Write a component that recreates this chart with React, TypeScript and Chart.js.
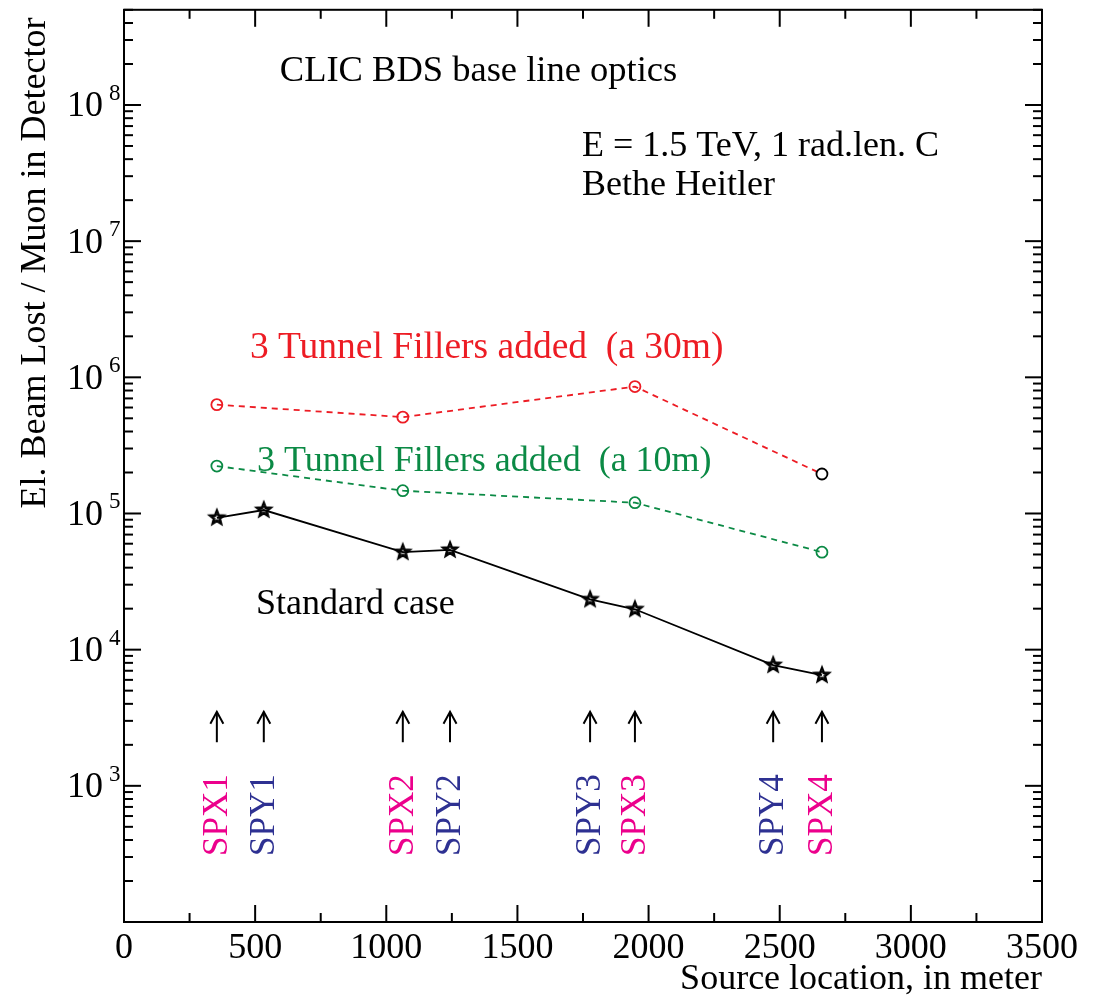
import React, { useEffect, useRef } from 'react';
import { Chart, registerables } from 'chart.js';

Chart.register(...registerables);

const FONT = '"Liberation Serif", "Times New Roman", serif';

// ---- data ----
const standardX = [354, 533, 1063, 1243, 1777, 1948, 2475, 2661];
const standardY = [9.3e4, 1.06e5, 5.2e4, 5.4e4, 2.34e4, 1.98e4, 7.7e3, 6.5e3];
const fillerX = [354, 1063, 1948, 2661];
const filler30Y = [6.3e5, 5.1e5, 8.55e5, 1.95e5];
const filler10Y = [2.23e5, 1.47e5, 1.2e5, 5.2e4];
const spoilerNames = ['SPX1', 'SPY1', 'SPX2', 'SPY2', 'SPY3', 'SPX3', 'SPY4', 'SPX4'];
const spoilerX = [354, 533, 1063, 1243, 1777, 1948, 2475, 2661];
const xTickValues = [0, 500, 1000, 1500, 2000, 2500, 3000, 3500];
const yDecadeExps = [3, 4, 5, 6, 7, 8];

const X_MIN = 0;
const X_MAX = 3500;
const Y_MIN = 100;
const Y_MAX = 5e8;

const RED = '#ED1C24';
const GREEN = '#0B8A45';
const MAGENTA = '#EC008C';
const NAVY = '#2E3192';

const notes = [
  { text: 'CLIC BDS base line optics', x: 594, y: 1.49e8, color: '#000', size: 36.5 },
  { text: 'E = 1.5 TeV, 1 rad.len. C', x: 1746, y: 4.22e7, color: '#000', size: 36 },
  { text: 'Bethe Heitler', x: 1746, y: 2.19e7, color: '#000', size: 36 },
  { text: '3 Tunnel Fillers added  (a 30m)', x: 480, y: 1.39e6, color: RED, size: 37.5 },
  { text: '3 Tunnel Fillers added  (a 10m)', x: 507, y: 2.05e5, color: GREEN, size: 36 },
  { text: 'Standard case', x: 503, y: 1.82e4, color: '#000', size: 36 },
];

function makeStar(): HTMLCanvasElement {
  const c = document.createElement('canvas');
  c.width = 22;
  c.height = 22;
  const g = c.getContext('2d')!;
  const path = (ro: number, ri: number) => {
    g.beginPath();
    for (let i = 0; i < 10; i++) {
      const r = i % 2 === 0 ? ro : ri;
      const a = -Math.PI / 2 + (i * Math.PI) / 5;
      const px = 11 + r * Math.cos(a);
      const py = 11 + r * Math.sin(a);
      if (i === 0) g.moveTo(px, py);
      else g.lineTo(px, py);
    }
    g.closePath();
  };
  g.strokeStyle = '#000';
  path(7.8, 3.4);
  g.lineWidth = 2;
  g.stroke();
  path(4.5, 2);
  g.lineWidth = 1.2;
  g.stroke();
  return c;
}

const decor = {
  id: 'decor',
  afterDraw(chart: any) {
    const { ctx, chartArea: a, scales } = chart;
    const x = scales.x;
    const y = scales.y;
    ctx.save();
    ctx.strokeStyle = '#000';
    ctx.lineWidth = 2;
    const line = (x1: number, y1: number, x2: number, y2: number) => {
      ctx.beginPath();
      ctx.moveTo(x1, y1);
      ctx.lineTo(x2, y2);
      ctx.stroke();
    };
    // x ticks (major + minor), bottom and top
    for (let i = 0; i < xTickValues.length; i++) {
      const px = x.getPixelForValue(xTickValues[i]);
      line(px, a.bottom, px, a.bottom - 17);
      line(px, a.top, px, a.top + 17);
      if (i < xTickValues.length - 1) {
        const pm = x.getPixelForValue((xTickValues[i] + xTickValues[i + 1]) / 2);
        line(pm, a.bottom, pm, a.bottom - 9);
        line(pm, a.top, pm, a.top + 9);
      }
    }
    // y ticks (log), left and right
    for (let e = 2; e <= 8; e++) {
      for (let m = 1; m <= 9; m++) {
        const v = m * Math.pow(10, e);
        if (v < Y_MIN || v > Y_MAX) continue;
        const py = y.getPixelForValue(v);
        const len = m === 1 ? 17 : 9;
        line(a.left, py, a.left + len, py);
        line(a.right, py, a.right - len, py);
      }
    }
    // frame
    ctx.strokeRect(a.left, a.top, a.right - a.left, a.bottom - a.top);

    // x tick labels
    ctx.fillStyle = '#000';
    ctx.font = `36px ${FONT}`;
    ctx.textAlign = 'center';
    ctx.textBaseline = 'alphabetic';
    for (const v of xTickValues) {
      ctx.fillText(String(v), x.getPixelForValue(v), a.bottom + 36);
    }
    // y tick labels 10^n
    for (const e of yDecadeExps) {
      const py = y.getPixelForValue(Math.pow(10, e));
      ctx.font = `36px ${FONT}`;
      ctx.textAlign = 'right';
      ctx.fillText('10', a.left - 21, py + 11.5);
      ctx.font = `23px ${FONT}`;
      ctx.textAlign = 'left';
      ctx.fillText(String(e), a.left - 15, py - 5);
    }
    // axis titles
    ctx.font = `36px ${FONT}`;
    ctx.textAlign = 'right';
    ctx.fillText('Source location, in meter', a.right, a.bottom + 67);
    ctx.save();
    ctx.translate(45, 263);
    ctx.rotate(-Math.PI / 2);
    ctx.textAlign = 'center';
    ctx.fillText('El. Beam Lost / Muon in Detector', 0, 0);
    ctx.restore();

    // text notes
    ctx.textAlign = 'left';
    for (const n of notes) {
      ctx.fillStyle = n.color;
      ctx.font = `${n.size}px ${FONT}`;
      ctx.fillText(n.text, x.getPixelForValue(n.x), y.getPixelForValue(n.y));
    }

    // spoiler arrows and labels
    for (let i = 0; i < spoilerNames.length; i++) {
      const px = x.getPixelForValue(spoilerX[i]);
      const tip = y.getPixelForValue(3500);
      const base = y.getPixelForValue(2090);
      ctx.strokeStyle = '#000';
      ctx.lineWidth = 2;
      line(px, base, px, tip);
      ctx.beginPath();
      ctx.moveTo(px - 6.5, tip + 12);
      ctx.lineTo(px, tip);
      ctx.lineTo(px + 6.5, tip + 12);
      ctx.stroke();
      const name = spoilerNames[i];
      ctx.fillStyle = name.startsWith('SPX') ? MAGENTA : NAVY;
      ctx.save();
      ctx.translate(px + 10, y.getPixelForValue(610));
      ctx.rotate(-Math.PI / 2);
      ctx.font = `35px ${FONT}`;
      ctx.textAlign = 'center';
      ctx.textBaseline = 'alphabetic';
      ctx.fillText(name, 0, 0);
      ctx.restore();
    }
    ctx.restore();
  },
};

export default function App() {
  const ref = useRef<HTMLCanvasElement | null>(null);
  useEffect(() => {
    if (!ref.current) return;
    const star = makeStar();
    const chart = new Chart(ref.current, {
      type: 'line',
      data: {
        datasets: [
          {
            label: 'Standard case',
            data: standardX.map((v, i) => ({ x: v, y: standardY[i] })),
            borderColor: '#000',
            borderWidth: 1.8,
            pointStyle: star as any,
            pointRadius: 8,
            tension: 0,
          },
          {
            label: '3 Tunnel Fillers (a 30m)',
            data: fillerX.map((v, i) => ({ x: v, y: filler30Y[i] })),
            borderColor: RED,
            borderDash: [6, 5],
            borderWidth: 1.8,
            pointStyle: 'circle',
            pointRadius: 5.5,
            pointBorderWidth: 1.8,
            pointBorderColor: [RED, RED, RED, '#000'],
            pointBackgroundColor: 'rgba(0,0,0,0)',
            tension: 0,
          },
          {
            label: '3 Tunnel Fillers (a 10m)',
            data: fillerX.map((v, i) => ({ x: v, y: filler10Y[i] })),
            borderColor: GREEN,
            borderDash: [6, 5],
            borderWidth: 1.8,
            pointStyle: 'circle',
            pointRadius: 5.5,
            pointBorderWidth: 1.8,
            pointBorderColor: GREEN,
            pointBackgroundColor: 'rgba(0,0,0,0)',
            tension: 0,
          },
        ],
      },
      options: {
        animation: false,
        responsive: true,
        maintainAspectRatio: false,
        layout: { padding: { left: 0, top: 6, right: 51, bottom: 0 } },
        plugins: { legend: { display: false }, tooltip: { enabled: false } },
        scales: {
          x: {
            type: 'linear',
            min: X_MIN,
            max: X_MAX,
            ticks: { display: false, stepSize: 500 },
            grid: { display: false },
            border: { display: false },
            afterFit: (s: any) => {
              s.height = 77;
            },
          },
          y: {
            type: 'logarithmic',
            min: Y_MIN,
            max: Y_MAX,
            ticks: { display: false },
            grid: { display: false },
            border: { display: false },
            afterFit: (s: any) => {
              s.width = 124;
            },
          },
        },
      } as any,
      plugins: [decor],
    });
    return () => chart.destroy();
  }, []);
  return (
    <div style={{ position: 'absolute', left: 0, top: 0, width: 1093, height: 999, background: '#fff' }}>
      <canvas ref={ref} />
    </div>
  );
}
